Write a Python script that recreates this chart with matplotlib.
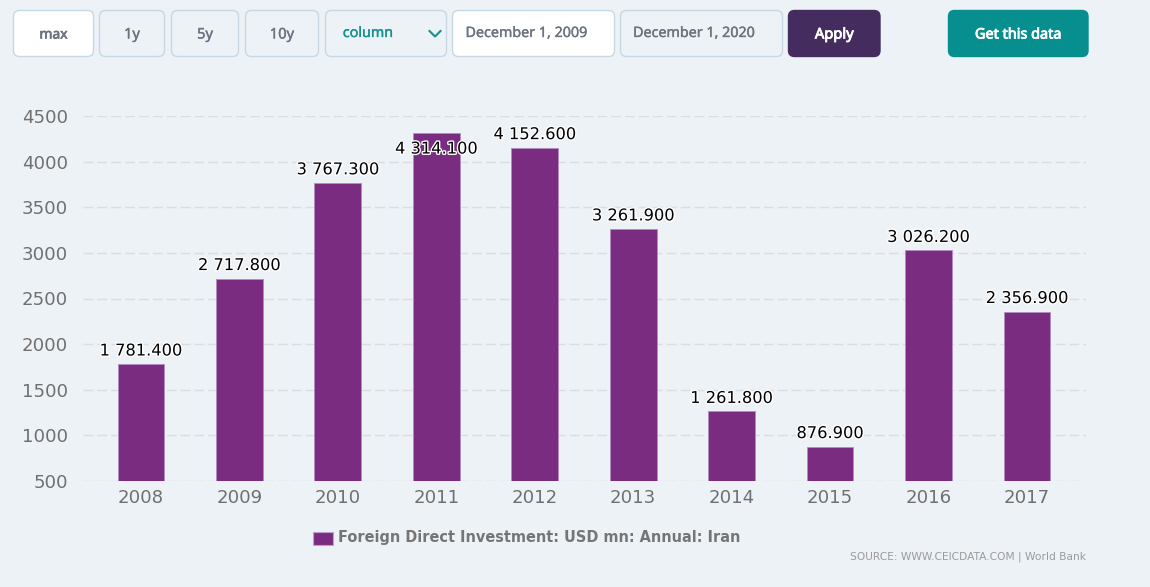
import matplotlib
matplotlib.use('Agg')
import matplotlib.pyplot as plt
from matplotlib import patheffects
from matplotlib.patches import FancyBboxPatch, Rectangle

W, H = 1150, 587

years = ['2008', '2009', '2010', '2011', '2012', '2013', '2014', '2015', '2016', '2017']
fdi = [1781.4, 2717.8, 3767.3, 4314.1, 4152.6, 3261.9, 1261.8, 876.9, 3026.2, 2356.9]
y_ticks = [500, 1000, 1500, 2000, 2500, 3000, 3500, 4000, 4500]
series_name = 'Foreign Direct Investment: USD mn: Annual: Iran'
source_text = 'SOURCE: WWW.CEICDATA.COM | World Bank'

BG = '#edf2f7'
PURPLE = '#7a2c80'
TICK = '#6f6f6f'

fig = plt.figure(figsize=(W / 100, H / 100), dpi=100, facecolor=BG)

# full size overlay in pixel coords for the buttons, legend and source
ui = fig.add_axes([0, 0, 1, 1])
ui.set_xlim(0, W)
ui.set_ylim(H, 0)
ui.axis('off')


def button(x0, x1, label, face=BG, edge='#c5d8e4', color='#6b7280', heavy=0.25,
           tx=None, ty=35, size=10.3):
    y0, y1 = 10.5, 56.5
    ui.add_patch(FancyBboxPatch((x0 + 5, y0 + 5), x1 - x0 - 10, y1 - y0 - 10,
                                boxstyle='round,pad=5,rounding_size=6',
                                fc=face, ec=edge, lw=1))
    if tx is None:
        tx = (x0 + x1) / 2
    # Noto Sans only comes in one weight here, so thicken it with a stroke
    ui.text(tx, ty, label, ha='center', va='center', fontsize=size,
            family='Noto Sans', color=color,
            path_effects=[patheffects.withStroke(linewidth=heavy, foreground=color)])


button(13.5, 93.5, 'max', face='white', heavy=0.5, size=10)
button(99.5, 164.5, '1y', size=10.6)
button(171.5, 238.5, '5y', size=10.6)
button(245.5, 318.5, '10y', size=10.6)
button(325.5, 446.5, 'column', color='#15918f', tx=368, ty=33.5)
ui.plot([429.5, 435, 440.5], [31, 36.5, 31], color='#15918f', lw=1.5)
button(452.5, 614.5, 'December 1, 2009', face='white', tx=526.5, ty=33.5)
button(620.5, 782.5, 'December 1, 2020', tx=694, ty=33.5)
button(788.5, 880, 'Apply', face='#442c5e', edge='#442c5e', color='white', heavy=0.6, size=10.6)
button(948.5, 1088, 'Get this data', face='#078e8e', edge='#078e8e', color='white',
       heavy=0.6, size=10.4)

# legend and source
ui.add_patch(Rectangle((313, 531.5), 19.5, 13, fc=PURPLE, ec='#b9a3cc', lw=0.8))
ui.text(338, 537.5, series_name, ha='left', va='center', fontsize=10.45,
        weight='bold', color='#757575', family='DejaVu Sans')
ui.text(1085.5, 557, source_text, ha='right', va='center', fontsize=7.7,
        color='#9a9a9a', family='DejaVu Sans')

# chart area: x 83-1086, y 116-481 in pixels
ax = fig.add_axes([83 / W, 1 - 481 / H, (1086 - 83) / W, (481 - 116) / H])
ax.patch.set_alpha(0)
positions = list(range(len(years)))
ax.bar(positions, fdi, width=0.475, bottom=0, color=PURPLE, edgecolor='#b18dc0',
       linewidth=0.6, zorder=3)
ax.set_xlim(-0.589, 9.6)
ax.set_ylim(500, 4500)
ax.set_xticks(positions, years)
ax.set_yticks(y_ticks)
ax.tick_params(length=0, labelsize=13.1, labelcolor=TICK, pad=6)
ax.tick_params(axis='y', pad=11)
ax.grid(axis='y', color='#dcdde2', lw=1, ls=(0, (7, 3)), zorder=1)
ax.set_axisbelow(True)
for s in ax.spines.values():
    s.set_visible(False)

# the tallest bar has no room above it, its label sits inside
for i, v in enumerate(fdi):
    whole, frac = f'{v:.3f}'.split('.')
    label = f'{int(whole):,}'.replace(',', ' ') + '.' + frac
    offset = -17 if v == max(fdi) else 4
    ax.annotate(label, (i, v), xytext=(0, offset), textcoords='offset points',
                ha='center', va='bottom', fontsize=11.7, color='black', zorder=5,
                path_effects=[patheffects.withStroke(linewidth=2, foreground='white')])

fig.savefig('out.png', dpi=100, facecolor=BG)
